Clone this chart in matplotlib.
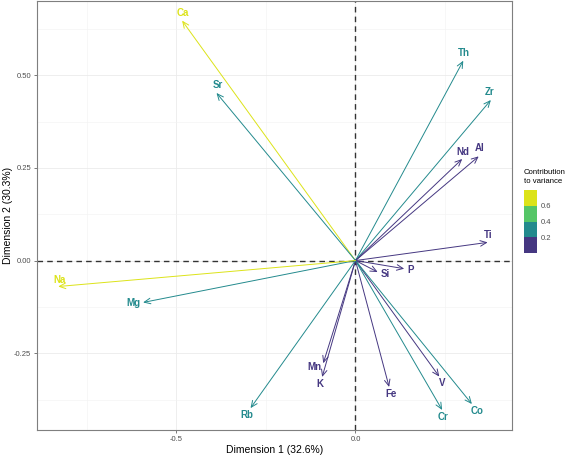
import matplotlib
matplotlib.use("Agg")
import matplotlib.pyplot as plt
import numpy as np
from matplotlib.colors import ListedColormap, BoundaryNorm
from matplotlib.colorbar import ColorbarBase

plt.rcParams['font.family'] = ['Liberation Sans', 'DejaVu Sans']

# variable coordinates on the first two dimensions
elements = ['Ca', 'Sr', 'Th', 'Zr', 'Nd', 'Al', 'Ti', 'P', 'Si', 'V',
            'Co', 'Cr', 'Fe', 'K', 'Mn', 'Rb', 'Mg', 'Na']
dim1 = [-0.484, -0.388, 0.301, 0.378, 0.298, 0.344, 0.369, 0.136, 0.062, 0.234,
        0.325, 0.242, 0.094, -0.093, -0.090, -0.293, -0.593, -0.830]
dim2 = [0.647, 0.452, 0.539, 0.433, 0.274, 0.281, 0.049, -0.022, -0.031, -0.313,
        -0.387, -0.403, -0.341, -0.314, -0.277, -0.398, -0.113, -0.070]
contrib = [0.65, 0.35, 0.38, 0.33, 0.16, 0.19, 0.14, 0.02, 0.01, 0.15,
           0.26, 0.22, 0.12, 0.11, 0.09, 0.24, 0.36, 0.69]
# label offsets (pixels, right / up) from the arrow tip
label_dx = [1, 1, 1, -1, 1, 1, 1, 6, 8, 3, 5, 1, 2, -2, -9, -4, -10, 1]
label_dy = [8, 8, 8, 8, 7, 8, 7, -1, -2, -6, -7, -7, -7, -7, -4, -7, -1, 7]

bins = [0.0, 0.2, 0.4, 0.6, 0.8]
bin_colors = ['#453781', '#238A8D', '#55C667', '#DCE319']
cmap = ListedColormap(bin_colors)
norm = BoundaryNorm(bins, cmap.N)

fig = plt.figure(figsize=(5.67, 4.55), dpi=100)
ax = fig.add_axes([36.7 / 567, 1 - 430 / 455, (512 - 36.7) / 567, 429 / 455])

ax.set_xlim(-0.890, 0.437)
ax.set_ylim(-0.457, 0.700)
ax.set_xticks([-0.5, 0.0])
ax.set_xticklabels(['-0.5', '0.0'])
ax.set_yticks([-0.25, 0.0, 0.25, 0.5])
ax.set_yticklabels(['-0.25', '0.00', '0.25', '0.50'])
ax.set_xticks([-0.75, -0.25, 0.25], minor=True)
ax.set_yticks([-0.375, -0.125, 0.125, 0.375, 0.625], minor=True)
ax.grid(which='major', color='#EBEBEB', lw=0.6)
ax.grid(which='minor', color='#F2F2F2', lw=0.4)
ax.set_axisbelow(True)
ax.tick_params(which='major', length=2.5, width=0.5, color='#444444',
               labelsize=5.5, labelcolor='#4D4D4D', pad=1.5)
ax.tick_params(which='minor', length=0)
for s in ax.spines.values():
    s.set_color('#7F7F7F')
    s.set_linewidth(0.8)

ax.axhline(0, color='#333333', lw=1.0, ls=(0, (4, 3)), zorder=1)
ax.axvline(0, color='#333333', lw=1.0, ls=(0, (4, 3)), zorder=1)

px = 0.72  # points per pixel
for i, name in enumerate(elements):
    col = bin_colors[np.searchsorted(bins, contrib[i], side='right') - 1]
    ax.annotate('', xy=(dim1[i], dim2[i]), xytext=(0, 0),
                arrowprops=dict(arrowstyle='->,head_length=0.45,head_width=0.2',
                                color=col, lw=0.7, shrinkA=0, shrinkB=0,
                                mutation_scale=10), zorder=2)
    ax.annotate(name, xy=(dim1[i], dim2[i]),
                xytext=(label_dx[i] * px, label_dy[i] * px),
                textcoords='offset points', ha='center', va='center',
                color=col, fontsize=7, fontweight='bold', zorder=3)

ax.set_xlabel('Dimension 1 (32.6%)', fontsize=7.5, labelpad=2)
ax.set_ylabel('Dimension 2 (30.3%)', fontsize=7.5, labelpad=1)

# binned colour legend
cax = fig.add_axes([524 / 567, 1 - 253 / 455, 13 / 567, 63 / 455])
cb = ColorbarBase(cax, cmap=cmap, norm=norm, boundaries=bins,
                  ticks=[0.2, 0.4, 0.6], orientation='vertical')
cb.outline.set_visible(False)
cax.minorticks_off()
cax.tick_params(which='both', length=0, labelsize=5.5, labelcolor='#4D4D4D', pad=3)
cax.set_yticklabels(['0.2', '0.4', '0.6'])
fig.text(524 / 567, 1 - 177 / 455, 'Contribution\nto variance', fontsize=5.6,
         ha='left', va='center', linespacing=1.25)

fig.savefig('out.png', dpi=100)
